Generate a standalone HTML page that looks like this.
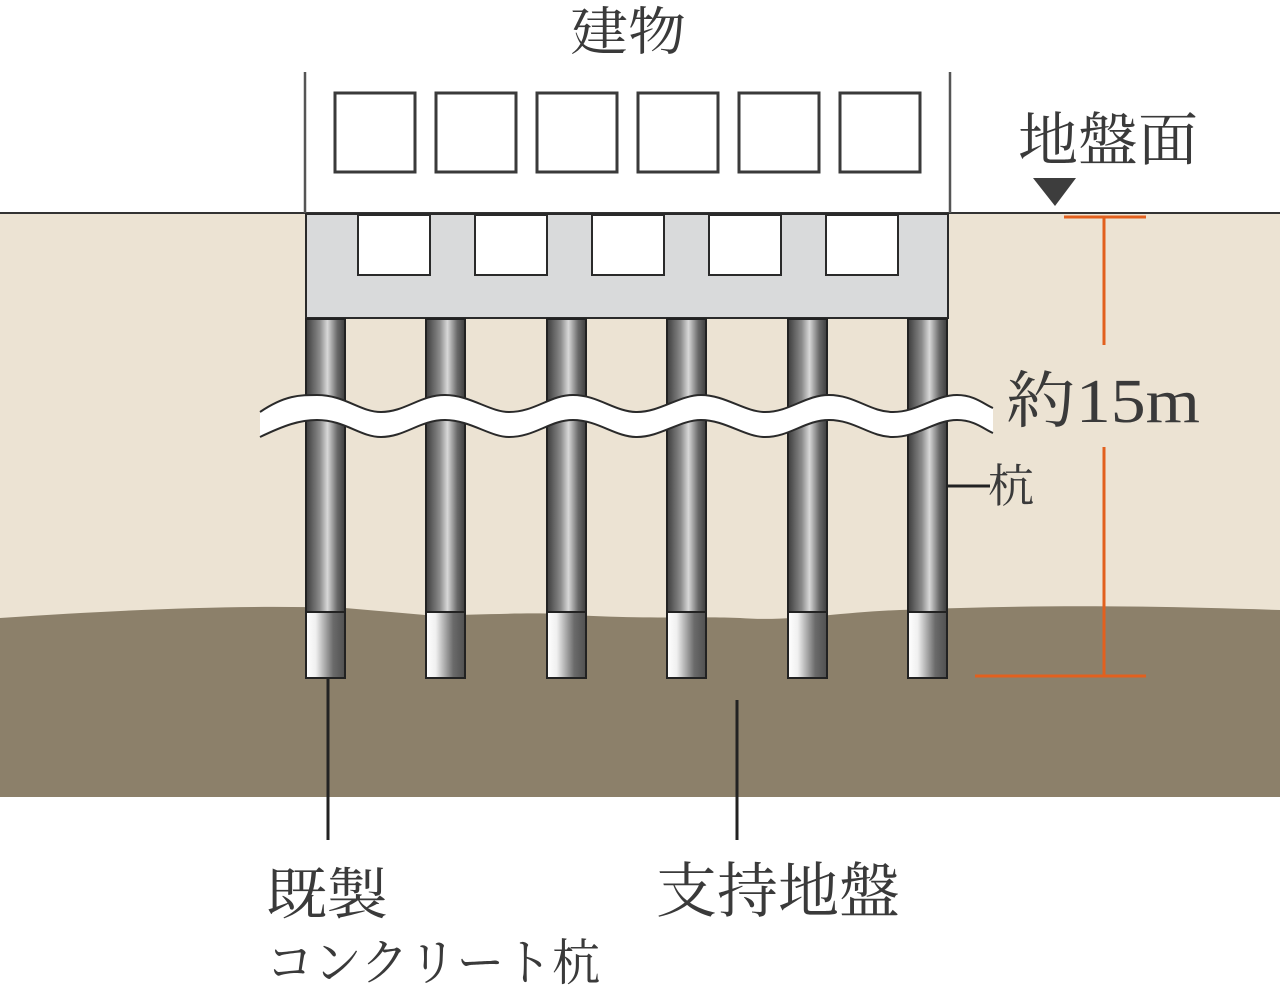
<!DOCTYPE html>
<html><head><meta charset="utf-8"><style>
html,body{margin:0;padding:0;background:#fff}
svg{display:block}
text{font-family:"Liberation Serif","Noto Serif CJK JP","Noto Serif CJK SC",serif;fill:#3a3a3a}
</style></head><body>
<svg width="1280" height="988" viewBox="0 0 1280 988" xmlns="http://www.w3.org/2000/svg">
<defs>
<linearGradient id="pu" x1="0" x2="1" y1="0" y2="0">
<stop offset="0" stop-color="#3d3d3d"/><stop offset="0.35" stop-color="#8a8a8a"/><stop offset="0.55" stop-color="#d8d8d8"/><stop offset="0.8" stop-color="#6a6a6a"/><stop offset="1" stop-color="#3d3d3d"/>
</linearGradient>
<linearGradient id="pl" x1="0" x2="1" y1="0" y2="0">
<stop offset="0" stop-color="#ffffff"/><stop offset="0.25" stop-color="#f0f0f0"/><stop offset="0.7" stop-color="#6a6a6a"/><stop offset="1" stop-color="#505050"/>
</linearGradient>
</defs>
<rect x="0" y="213" width="1280" height="584" fill="#ece3d3"/>
<path d="M0 618 C150 608 250 605 345 608 L425 615 C460 616 520 612 560 614 C640 620 700 616 740 618 C790 622 840 612 900 610 C1050 604 1150 606 1280 610 L1280 797 L0 797 Z" fill="#8c806a"/>
<line x1="0" y1="213" x2="1280" y2="213" stroke="#333" stroke-width="2"/>
<path d="M305 213 V72 M950 72 V213" stroke="#555" stroke-width="2.5" fill="none"/>
<g fill="#fff" stroke="#3a3a3a" stroke-width="3">
<rect x="335" y="93" width="80" height="79"/><rect x="436" y="93" width="80" height="79"/><rect x="537" y="93" width="80" height="79"/><rect x="638" y="93" width="80" height="79"/><rect x="739" y="93" width="80" height="79"/><rect x="840" y="93" width="80" height="79"/>
</g>
<rect x="306" y="214" width="642" height="104" fill="#d9dadb" stroke="#2a2a2a" stroke-width="2"/>
<g fill="#fff" stroke="#2a2a2a" stroke-width="2">
<rect x="358" y="215" width="72" height="60"/><rect x="475" y="215" width="72" height="60"/><rect x="592" y="215" width="72" height="60"/><rect x="709" y="215" width="72" height="60"/><rect x="826" y="215" width="72" height="60"/>
</g>
<g stroke="#222" stroke-width="2">
<rect x="306" y="319" width="39" height="300" fill="url(#pu)"/><rect x="306" y="612" width="39" height="66" fill="url(#pl)"/>
<rect x="426" y="319" width="39" height="300" fill="url(#pu)"/><rect x="426" y="612" width="39" height="66" fill="url(#pl)"/>
<rect x="547" y="319" width="39" height="300" fill="url(#pu)"/><rect x="547" y="612" width="39" height="66" fill="url(#pl)"/>
<rect x="667" y="319" width="39" height="300" fill="url(#pu)"/><rect x="667" y="612" width="39" height="66" fill="url(#pl)"/>
<rect x="788" y="319" width="39" height="300" fill="url(#pu)"/><rect x="788" y="612" width="39" height="66" fill="url(#pl)"/>
<rect x="908" y="319" width="39" height="300" fill="url(#pu)"/><rect x="908" y="612" width="39" height="66" fill="url(#pl)"/>
</g>
<path d="M260 412 C285 395 300 395 317 395 C345 395 360 412 381 412 C405 412 420 395 445 395 C470 395 490 412 509 412 C535 412 550 395 573 395 C598 395 615 412 637 412 C660 412 680 395 701 395 C725 395 745 412 765 412 C790 412 805 395 829 395 C855 395 870 412 893 412 C918 412 935 395 957 395 C975 395 985 405 993 408 L993 433 C985 430 975 420 957 420 C935 420 918 437 893 437 C870 437 855 420 829 420 C805 420 790 437 765 437 C745 437 725 420 701 420 C680 420 660 437 637 437 C615 437 598 420 573 420 C550 420 535 437 509 437 C490 437 470 420 445 420 C420 420 405 437 381 437 C360 437 345 420 317 420 C300 420 285 425 260 437 Z" fill="#fff"/>
<path d="M260 412 C285 395 300 395 317 395 C345 395 360 412 381 412 C405 412 420 395 445 395 C470 395 490 412 509 412 C535 412 550 395 573 395 C598 395 615 412 637 412 C660 412 680 395 701 395 C725 395 745 412 765 412 C790 412 805 395 829 395 C855 395 870 412 893 412 C918 412 935 395 957 395 C975 395 985 405 993 408 M993 433 C985 430 975 420 957 420 C935 420 918 437 893 437 C870 437 855 420 829 420 C805 420 790 437 765 437 C745 437 725 420 701 420 C680 420 660 437 637 437 C615 437 598 420 573 420 C550 420 535 437 509 437 C490 437 470 420 445 420 C420 420 405 437 381 437 C360 437 345 420 317 420 C300 420 285 425 260 437" fill="none" stroke="#2a2a2a" stroke-width="2"/>
<g stroke="#e2601e" stroke-width="3">
<line x1="1064" y1="217" x2="1146" y2="217"/><line x1="975" y1="676" x2="1146" y2="676"/>
<line x1="1104" y1="217" x2="1104" y2="345"/><line x1="1104" y1="447" x2="1104" y2="676"/>
</g>
<polygon points="1033,178 1076,178 1055,206" fill="#3d3d3d"/>
<g stroke="#222" stroke-width="3">
<line x1="328" y1="678" x2="328" y2="840"/><line x1="737" y1="700" x2="737" y2="840"/><line x1="947" y1="486" x2="990" y2="486"/>
</g>
<text x="570" y="50" font-size="52" textLength="116" lengthAdjust="spacingAndGlyphs">建物</text>
<text x="1018" y="160" font-size="58" textLength="180" lengthAdjust="spacingAndGlyphs">地盤面</text>
<text x="1006" y="422" font-size="62" textLength="194" lengthAdjust="spacingAndGlyphs">約15m</text>
<text x="988" y="502" font-size="46">杭</text>
<text x="266" y="914" font-size="56" textLength="122" lengthAdjust="spacingAndGlyphs">既製</text>
<text x="266" y="980" font-size="50" textLength="334" lengthAdjust="spacingAndGlyphs">コンクリート杭</text>
<text x="656" y="912" font-size="60" textLength="244" lengthAdjust="spacingAndGlyphs">支持地盤</text>
</svg>
</body></html>
